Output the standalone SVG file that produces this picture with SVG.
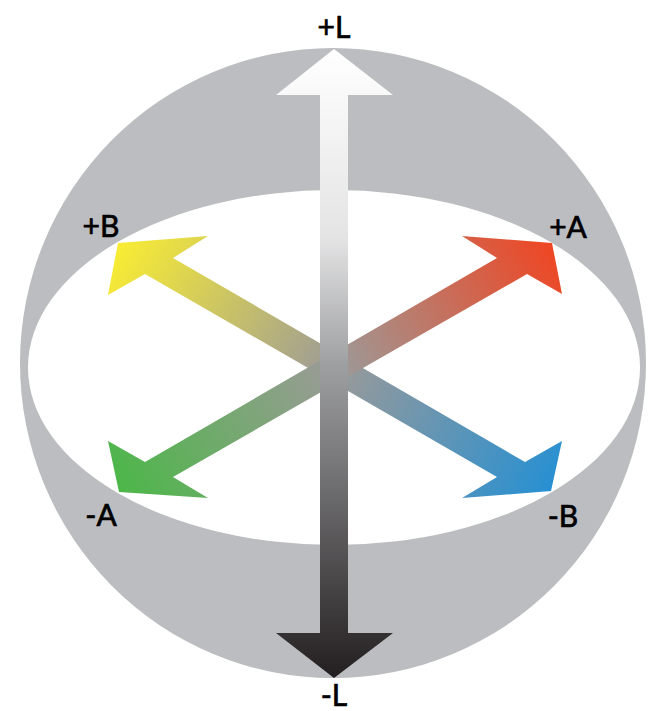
<svg xmlns="http://www.w3.org/2000/svg" width="653" height="711" viewBox="0 0 653 711">
  <style>
    .lbl { font-family: Lato, "Open Sans", "Liberation Sans", sans-serif; font-size: 30px; fill: #000; stroke: #000; stroke-width: 0.7px; }
  </style>
  <defs>
    <linearGradient id="gL" gradientUnits="userSpaceOnUse" x1="334" y1="49" x2="334" y2="678">
      <stop offset="0" stop-color="#ffffff"/>
      <stop offset="0.3" stop-color="#e4e4e5"/>
      <stop offset="0.5" stop-color="#9fa0a2"/>
      <stop offset="1" stop-color="#231f20"/>
    </linearGradient>
    <linearGradient id="gB" gradientUnits="userSpaceOnUse" x1="118" y1="243" x2="551" y2="491">
      <stop offset="0" stop-color="#f9ed32"/>
      <stop offset="0.5" stop-color="#9c9a98"/>
      <stop offset="1" stop-color="#2790d2"/>
    </linearGradient>
    <linearGradient id="gA" gradientUnits="userSpaceOnUse" x1="552" y1="243" x2="119" y2="492">
      <stop offset="0" stop-color="#ef4623"/>
      <stop offset="0.5" stop-color="#9c9a98"/>
      <stop offset="1" stop-color="#4cb748"/>
    </linearGradient>
  </defs>
  <g id="sphere">
    <ellipse cx="333" cy="363" rx="313" ry="315" fill="#bcbdc1"/>
    <ellipse cx="334" cy="367.5" rx="306" ry="177.5" fill="#ffffff"/>
  </g>
  <g id="connectors">
    <polygon id="axis-b" fill="url(#gB)" points="118,243 208,236 173,258 525,462 562,441 551,491 462,498 497,477 145,274 108,295"/>
    <polygon id="axis-a" fill="url(#gA)" points="552,243 562,294 527,274 173,477 208,498 119,492 108,441 145,462 497,258 462,236"/>
    <polygon id="axis-l" fill="url(#gL)" points="334,49 393,95 348,95 348,633 393,633 334,678 276,633 320,633 320,95 276,95"/>
  </g>
  <g id="label-plus-l"><text class="lbl" x="334" y="38" text-anchor="middle" font-size="33">+L</text></g>
  <g id="label-minus-l"><text class="lbl" x="334" y="706" text-anchor="middle" font-size="32">-L</text></g>
  <g id="label-plus-b"><text class="lbl" x="101" y="236.5" text-anchor="middle">+B</text></g>
  <g id="label-plus-a"><text class="lbl" x="568" y="238" text-anchor="middle">+A</text></g>
  <g id="label-minus-a"><text class="lbl" x="101" y="525.5" text-anchor="middle">-A</text></g>
  <g id="label-minus-b"><text class="lbl" x="563" y="527" text-anchor="middle">-B</text></g>
</svg>
